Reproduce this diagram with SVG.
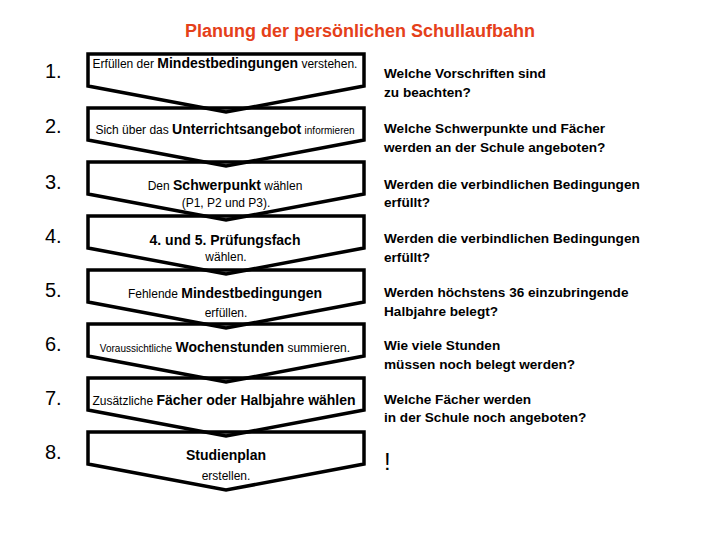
<svg xmlns="http://www.w3.org/2000/svg" width="720" height="540" viewBox="0 0 720 540">
<style>
text{font-family:"Liberation Sans",Arial,sans-serif;fill:#000}
.title{font-size:18px;font-weight:bold;fill:#e5401a}
.num{font-size:20px}
.box{fill:none;stroke:#000;stroke-width:3.5;stroke-linejoin:miter}
.t{font-size:12px;text-anchor:middle}
.b{font-weight:bold;font-size:14px}
.s{font-size:10px}
.q{font-size:13.6px;font-weight:bold}
</style>
<rect width="720" height="540" fill="#fff"/>
<text class="title" x="360" y="37" text-anchor="middle">Planung der persönlichen Schullaufbahn</text>
<g id="numbers">
<text class="num" x="45" y="78">1.</text>
<text class="num" x="45" y="133">2.</text>
<text class="num" x="45" y="189">3.</text>
<text class="num" x="45" y="243">4.</text>
<text class="num" x="45" y="297">5.</text>
<text class="num" x="45" y="351">6.</text>
<text class="num" x="45" y="405">7.</text>
<text class="num" x="45" y="459">8.</text>
</g>
<g id="connectors"></g>
<g id="step1">
<path class="box" d="M88,54 H364 V86 L226,112 L88,86 Z"/>
<text class="t" x="225" y="68" font-size="11.6">Erfüllen der <tspan class="b" font-size="11.6">Mindestbedingungen</tspan> verstehen.</text>
</g>
<g id="step2">
<path class="box" d="M88,108 H364 V140 L226,166 L88,140 Z"/>
<text class="t" x="225" y="134" font-size="13">Sich über das <tspan class="b" font-size="14.5">Unterrichtsangebot</tspan> <tspan class="s">informieren</tspan></text>
</g>
<g id="step3">
<path class="box" d="M88,162 H364 V194 L226,220 L88,194 Z"/>
<text class="t" x="225" y="190">Den <tspan class="b">Schwerpunkt</tspan> wählen</text>
<text class="t" x="226" y="207">(P1, P2 und P3).</text>
</g>
<g id="step4">
<path class="box" d="M88,216 H364 V248 L226,274 L88,248 Z"/>
<text class="t b" x="225" y="245" font-size="13.8">4. und 5. Prüfungsfach</text>
<text class="t" x="226" y="261">wählen.</text>
</g>
<g id="step5">
<path class="box" d="M88,270 H364 V302 L226,328 L88,302 Z"/>
<text class="t" x="225" y="298" font-size="12.5">Fehlende <tspan class="b">Mindestbedingungen</tspan></text>
<text class="t" x="226" y="317">erfüllen.</text>
</g>
<g id="step6">
<path class="box" d="M88,324 H364 V356 L226,382 L88,356 Z"/>
<text class="t" x="225" y="352" font-size="12.8"><tspan class="s" font-size="10.5">Voraussichtliche</tspan> <tspan class="b" font-size="16">Wochenstunden</tspan> summieren.</text>
</g>
<g id="step7">
<path class="box" d="M88,378 H364 V410 L226,436 L88,410 Z"/>
<text class="t" x="224" y="405" font-size="13.2">Zusätzliche <tspan class="b" font-size="14.3">Fächer oder Halbjahre wählen</tspan></text>
</g>
<g id="step8">
<path class="box" d="M88,432 H364 V464 L226,490 L88,464 Z"/>
<text class="t b" x="226" y="460">Studienplan</text>
<text class="t" x="226" y="480">erstellen.</text>
</g>
<g id="questions">
<text class="q" x="384" y="78">Welche Vorschriften sind</text>
<text class="q" x="384" y="97">zu beachten?</text>
<text class="q" x="384" y="133">Welche Schwerpunkte und Fächer</text>
<text class="q" x="384" y="152">werden an der Schule angeboten?</text>
<text class="q" x="384" y="189">Werden die verbindlichen Bedingungen</text>
<text class="q" x="384" y="207">erfüllt?</text>
<text class="q" x="384" y="243">Werden die verbindlichen Bedingungen</text>
<text class="q" x="384" y="262">erfüllt?</text>
<text class="q" x="384" y="297">Werden höchstens 36 einzubringende</text>
<text class="q" x="384" y="316">Halbjahre belegt?</text>
<text class="q" x="384" y="350">Wie viele Stunden</text>
<text class="q" x="384" y="369">müssen noch belegt werden?</text>
<text class="q" x="384" y="404">Welche Fächer werden</text>
<text class="q" x="384" y="422">in der Schule noch angeboten?</text>
<text x="384" y="470" font-size="24">!</text>
</g>
</svg>
